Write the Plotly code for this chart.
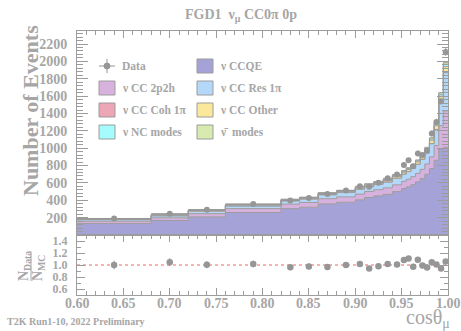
import plotly.graph_objects as go

# cos(theta_mu) binning of the FGD1 numu CC0pi 0p sample
bin_edges = [0.60, 0.68, 0.72, 0.76, 0.82, 0.84, 0.86, 0.88, 0.90, 0.91, 0.92,
             0.93, 0.94, 0.95, 0.955, 0.96, 0.965, 0.97, 0.975, 0.98, 0.985,
             0.99, 0.995, 1.00]

data_events = [190, 246, 291, 358, 397, 426, 471, 514, 562, 555, 601, 653,
               697, 805, 860, 791, 939, 921, 970, 1170, 1303, 1542, 2109]

# MC prediction split by interaction mode (events per bin)
nu_ccqe = [133, 167, 209, 259, 304, 320, 358, 377, 405, 432, 450, 468, 500,
           535, 555, 580, 612, 650, 700, 765, 860, 990, 1010]
nu_cc_2p2h = [27, 31, 37, 45, 52, 55, 60, 62, 66, 70, 72, 75, 78, 83, 87, 92,
              98, 106, 118, 135, 170, 270, 420]
nu_cc_res1pi = [17, 23, 28, 30, 37, 40, 45, 50, 55, 60, 63, 67, 75, 82, 88, 95,
                103, 115, 128, 150, 180, 280, 440]
nu_cc_coh1pi = [1, 1, 1, 1, 1, 1, 2, 2, 2, 2, 2, 2, 2, 3, 3, 3, 3, 4, 4, 5, 6,
                8, 10]
nu_cc_other = [5, 6, 7, 8, 9, 10, 11, 11, 12, 13, 14, 15, 18, 20, 22, 24, 26,
               29, 32, 36, 42, 52, 60]
nu_nc = [4, 4, 5, 6, 6, 6, 7, 7, 8, 8, 9, 9, 10, 11, 12, 12, 13, 14, 15, 16,
         18, 22, 28]
nubar_modes = [3, 3, 3, 3, 4, 4, 5, 5, 5, 5, 5, 6, 7, 8, 8, 9, 10, 12, 13, 13,
               14, 18, 22]

# x-axis tick labels of the ratio panel
x_ticks = [0.60, 0.65, 0.70, 0.75, 0.80, 0.85, 0.90, 0.95, 1.00]

components = [
    ("ν CCQE", nu_ccqe, "#a5a2d8"),
    ("ν CC 2p2h", nu_cc_2p2h, "#d8b2de"),
    ("ν CC Res 1π", nu_cc_res1pi, "#b4d8fa"),
    ("ν CC Coh 1π", nu_cc_coh1pi, "#eca6b6"),
    ("ν CC Other", nu_cc_other, "#fce89a"),
    ("ν NC modes", nu_nc, "#a6fbfc"),
    ("ν̄ modes", nubar_modes, "#d8eab0"),
]

TEXT = "#a6a6a6"
LINE = "#9c9c9c"
MARK = "#969696"
SERIF = "Liberation Serif, Times New Roman, serif"

n_bins = len(bin_edges) - 1
centers = [(bin_edges[i] + bin_edges[i + 1]) / 2 for i in range(n_bins)]
half_w = [(bin_edges[i + 1] - bin_edges[i]) / 2 for i in range(n_bins)]

fig = go.Figure()

# stacked MC histogram drawn as filled step outlines
cum = [0.0] * n_bins
for idx, (name, vals, col) in enumerate(components):
    cum = [c + v for c, v in zip(cum, vals)]
    fig.add_trace(go.Scatter(
        x=bin_edges, y=cum + [cum[-1]], mode="lines", line_shape="hv",
        line=dict(color=LINE, width=1), fill="tozeroy" if idx == 0 else "tonexty",
        fillcolor=col, name=name, showlegend=False, hoverinfo="skip",
        xaxis="x", yaxis="y"))
mc_total = cum

# data points with statistical errors
data_err = [v ** 0.5 for v in data_events]
fig.add_trace(go.Scatter(
    x=centers, y=data_events, mode="markers",
    marker=dict(color=MARK, size=6),
    error_y=dict(type="data", array=data_err, color=MARK, thickness=1, width=0),
    error_x=dict(type="data", array=half_w, color=MARK, thickness=1, width=0),
    showlegend=False, xaxis="x", yaxis="y"))

# data / MC ratio
ratio = [d / m for d, m in zip(data_events, mc_total)]
ratio_err = [e / m for e, m in zip(data_err, mc_total)]
fig.add_trace(go.Scatter(
    x=centers, y=ratio, mode="markers",
    marker=dict(color=MARK, size=6.5),
    error_y=dict(type="data", array=ratio_err, color=MARK, thickness=1, width=0),
    showlegend=False, xaxis="x2", yaxis="y2"))

W, H = 461, 331
L, R, T, B = 77, 13, 31, 36
PW, PH = W - L - R, H - T - B


def px(x):
    return (x - L) / PW


def py(y):
    return (H - B - y) / PH


split = py(235)

tick_font = dict(family=SERIF, size=14, color=TEXT, weight="bold")
common = dict(showline=True, linecolor=LINE, linewidth=1, ticks="inside",
              tickcolor=LINE, showgrid=False, zeroline=False)

fig.update_layout(
    width=W, height=H, margin=dict(l=L, r=R, t=T, b=B, autoexpand=False),
    paper_bgcolor="white", plot_bgcolor="white", showlegend=False,
    xaxis=dict(domain=[0, 1], range=[0.6, 1.0], anchor="y", side="top",
               showticklabels=False, tick0=0.6, dtick=0.05, ticklen=7,
               minor=dict(dtick=0.01, tick0=0.6, ticklen=4, ticks="inside",
                          tickcolor=LINE),
               mirror=True, **common),
    yaxis=dict(domain=[split, 1], range=[0, 2350], anchor="x",
               tickvals=list(range(200, 2201, 200)), ticklen=11,
               minor=dict(tickmode="linear", tick0=0, dtick=40, ticklen=6,
                          ticks="inside", tickcolor=LINE),
               mirror="ticks", tickfont=tick_font, ticklabelstandoff=6,
               **common),
    xaxis2=dict(domain=[0, 1], range=[0.6, 1.0], anchor="y2",
                tickvals=x_ticks, showticklabels=False, ticklen=7,
                minor=dict(dtick=0.01, tick0=0.6, ticklen=4, ticks="inside",
                           tickcolor=LINE),
                mirror="ticks", **common),
    yaxis2=dict(domain=[0, split], range=[0.5, 1.5], anchor="x2",
                tickvals=[0.6, 0.8, 1.0, 1.2, 1.4],
                ticktext=["0.6", "0.8", "1.0", "1.2", "1.4"], ticklen=8,
                minor=dict(tickmode="linear", tick0=0.5, dtick=0.1, ticklen=4,
                           ticks="inside", tickcolor=LINE),
                mirror="ticks", ticklabelstandoff=6,
                tickfont=dict(family=SERIF, size=12, color=TEXT, weight="bold"),
                **common),
)

shapes = []
annotations = []

# x tick labels placed on the ratio axis scale
for v in x_ticks:
    annotations.append(dict(text=f"{v:.2f}", xref="x2", yref="paper", x=v,
                            y=py(303), showarrow=False, xanchor="center",
                            yanchor="middle", font=tick_font))

# unity line in the ratio panel
shapes.append(dict(type="line", xref="x2", yref="y2", x0=0.6, x1=1.0, y0=1.0,
                   y1=1.0, line=dict(color="#f39a9a", width=1.6, dash="dot"),
                   layer="below"))

# title and labels
annotations.append(dict(text="FGD1  ν<sub>μ</sub> CC0π 0p", xref="paper",
                        yref="paper", x=px(241), y=py(15), showarrow=False,
                        xanchor="center", yanchor="middle",
                        font=dict(family=SERIF, size=14, color=TEXT, weight="bold")))
annotations.append(dict(text="Number of Events", xref="paper", yref="paper",
                        x=px(31), y=py(111), textangle=-90, showarrow=False,
                        xanchor="center", yanchor="middle",
                        font=dict(family=SERIF, size=22, color=TEXT, weight="bold")))
annotations.append(dict(text="cosθ<sub>μ</sub>", xref="paper", yref="paper",
                        x=px(452), y=py(318), showarrow=False,
                        xanchor="right", yanchor="middle",
                        font=dict(family=SERIF, size=20, color=TEXT)))
annotations.append(dict(text="T2K Run1-10, 2022 Preliminary", xref="paper",
                        yref="paper", x=px(5), y=py(321), showarrow=False,
                        xanchor="left", yanchor="middle",
                        font=dict(family=SERIF, size=10, color=TEXT, weight="bold")))

# ratio axis title as a fraction N_Data / N_MC
frac_font = dict(family=SERIF, size=14, color=TEXT, weight="bold")
annotations.append(dict(text="N<sub>Data</sub>", xref="paper", yref="paper",
                        x=px(24), y=py(266), textangle=-90, showarrow=False,
                        xanchor="center", yanchor="middle", font=frac_font))
annotations.append(dict(text="N<sub>MC</sub>", xref="paper", yref="paper",
                        x=px(38), y=py(268), textangle=-90, showarrow=False,
                        xanchor="center", yanchor="middle", font=frac_font))
shapes.append(dict(type="line", xref="paper", yref="paper", x0=px(31),
                   x1=px(31), y0=py(252), y1=py(281),
                   line=dict(color=TEXT, width=1)))

# legend, two columns
leg_font = dict(family=SERIF, size=11.5, color=TEXT, weight="bold")
rows = [66, 88, 110, 132]
col_box = [99, 197]
col_txt = [120, 218]
layout_slots = {
    "ν CCQE": (1, 0), "ν CC 2p2h": (0, 1), "ν CC Res 1π": (1, 1),
    "ν CC Coh 1π": (0, 2), "ν CC Other": (1, 2), "ν NC modes": (0, 3),
    "ν̄ modes": (1, 3),
}
for name, vals, col in components:
    c, r = layout_slots[name]
    yc = rows[r]
    shapes.append(dict(type="rect", xref="paper", yref="paper",
                       x0=px(col_box[c]), x1=px(col_box[c] + 16),
                       y0=py(yc + 7), y1=py(yc - 7), fillcolor=col,
                       line=dict(color=LINE, width=1)))
    label = name.replace("ν̄ ", "ν̄\u00a0\u00a0")
    annotations.append(dict(text=label, xref="paper", yref="paper",
                            x=px(col_txt[c]), y=py(yc), showarrow=False,
                            xanchor="left", yanchor="middle", font=leg_font))

# data legend symbol
yc = rows[0]
shapes.append(dict(type="line", xref="paper", yref="paper", x0=px(99),
                   x1=px(115), y0=py(yc), y1=py(yc),
                   line=dict(color=MARK, width=1)))
shapes.append(dict(type="line", xref="paper", yref="paper", x0=px(107),
                   x1=px(107), y0=py(yc - 7), y1=py(yc + 7),
                   line=dict(color=MARK, width=1)))
shapes.append(dict(type="circle", xref="paper", yref="paper", x0=px(104),
                   x1=px(110), y0=py(yc + 3), y1=py(yc - 3),
                   fillcolor=MARK, line=dict(color=MARK, width=1)))
annotations.append(dict(text="Data", xref="paper", yref="paper", x=px(120),
                        y=py(yc), showarrow=False, xanchor="left",
                        yanchor="middle", font=leg_font))

fig.update_layout(shapes=shapes, annotations=annotations)
fig.write_html("out.html")
